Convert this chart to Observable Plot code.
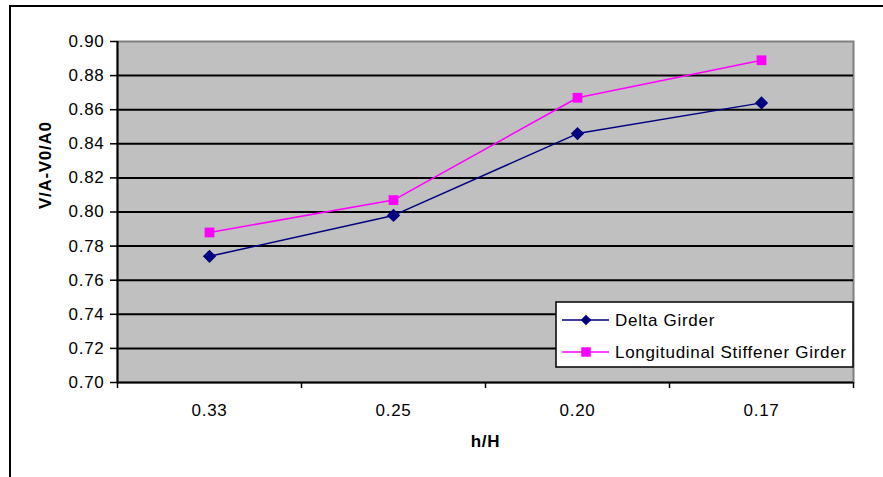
<!DOCTYPE html>
<html><head><meta charset="utf-8">
<script src="https://cdn.jsdelivr.net/npm/d3@7"></script>
<script src="https://cdn.jsdelivr.net/npm/@observablehq/plot@0.6"></script>
<style>
html,body{margin:0;padding:0;background:#fff;overflow:hidden;width:883px;height:477px}
#frame{position:absolute;left:9px;top:5px;width:1000px;height:1000px;border:2px solid #000;box-sizing:border-box;}
#chart{position:absolute;left:0;top:0}
</style></head>
<body><div id="frame"></div><div id="chart"></div>
<script>
const categories = ["0.33", "0.25", "0.20", "0.17"];
const deltaGirder = [0.774, 0.798, 0.846, 0.864];
const stiffenerGirder = [0.788, 0.807, 0.867, 0.889];
const yTicks = [0.70, 0.72, 0.74, 0.76, 0.78, 0.80, 0.82, 0.84, 0.86, 0.88, 0.90];
const seriesNames = ["Delta Girder", "Longitudinal Stiffener Girder"];
const seriesColors = ["#000080", "#FF00FF"];
const xTitle = "h/H";
const yTitle = "V/A-V0/A0";

const FONT = "'Liberation Sans', Arial, sans-serif";
const FS = 17;

const deltaRows = categories.map((c, i) => ({i: i + 0.5, v: deltaGirder[i]}));
const stiffRows = categories.map((c, i) => ({i: i + 0.5, v: stiffenerGirder[i]}));

const plot = Plot.plot({
  width: 883, height: 477,
  marginLeft: 117, marginRight: 30, marginTop: 41, marginBottom: 95,
  style: {fontFamily: FONT, fontSize: FS + "px", background: "transparent", color: "#000", letterSpacing: "0.7px"},
  x: {type: "linear", domain: [0, categories.length]},
  y: {domain: [0.70, 0.90]},
  marks: [
    Plot.frame({fill: "#C0C0C0", stroke: "#808080", strokeWidth: 2}),
    Plot.ruleY(yTicks.slice(1, -1), {stroke: "#000", strokeWidth: 2}),
    Plot.axisY({ticks: yTicks, tickFormat: d3.format(".2f"), tickSize: 7, tickPadding: 6, label: null, strokeWidth: 1.5, fontSize: FS, fontFamily: FONT}),
    Plot.axisX({ticks: d3.range(categories.length + 1), tickFormat: () => "", tickSize: 6, label: null, strokeWidth: 1.5}),
    Plot.axisX({ticks: categories.map((c, i) => i + 0.5), tickFormat: d => categories[Math.floor(d)], tickSize: 0, tickPadding: 21, label: null, fontSize: FS, fontFamily: FONT}),
    Plot.ruleY([0.70], {stroke: "#000", strokeWidth: 2}),
    Plot.ruleX([0], {stroke: "#000", strokeWidth: 2}),
    Plot.line(deltaRows, {x: "i", y: "v", stroke: seriesColors[0], strokeWidth: 1.5}),
    Plot.dot(deltaRows, {x: "i", y: "v", symbol: "diamond2", r: 6, fill: seriesColors[0], stroke: "none"}),
    Plot.line(stiffRows, {x: "i", y: "v", stroke: seriesColors[1], strokeWidth: 1.5}),
    Plot.dot(stiffRows, {x: "i", y: "v", symbol: "square", r: 5.5, fill: seriesColors[1], stroke: "none"}),
    Plot.text([yTitle], {frameAnchor: "left", dx: -72, dy: -3, rotate: -90, fontWeight: "bold", fontSize: FS, fontFamily: FONT}),
    Plot.text([xTitle], {frameAnchor: "bottom", dy: 64, fontWeight: "bold", fontSize: FS, fontFamily: FONT})
  ]
});
document.getElementById("chart").appendChild(plot);

// legend
const svg = d3.select(plot);
const lg = svg.append("g");
lg.append("rect").attr("x", 556).attr("y", 302).attr("width", 297).attr("height", 65)
  .attr("fill", "#fff").attr("stroke", "#000").attr("stroke-width", 1.5);
const symbols = [d3.symbolDiamond2, d3.symbolSquare];
const sizes = [72, 90];
seriesNames.forEach((name, k) => {
  const cy = 320 + k * 32;
  lg.append("line").attr("x1", 562).attr("x2", 609).attr("y1", cy).attr("y2", cy)
    .attr("stroke", seriesColors[k]).attr("stroke-width", 1.5);
  lg.append("path").attr("d", d3.symbol(symbols[k], sizes[k])()).attr("transform", `translate(586,${cy})`)
    .attr("fill", seriesColors[k]);
  lg.append("text").attr("x", 615).attr("y", cy).attr("dy", "0.35em")
    .style("font-family", FONT).style("font-size", FS + "px").style("text-anchor", "start")
    .style("letter-spacing", "0.7px").attr("fill", "#000").text(name);
});
</script>
</body></html>
